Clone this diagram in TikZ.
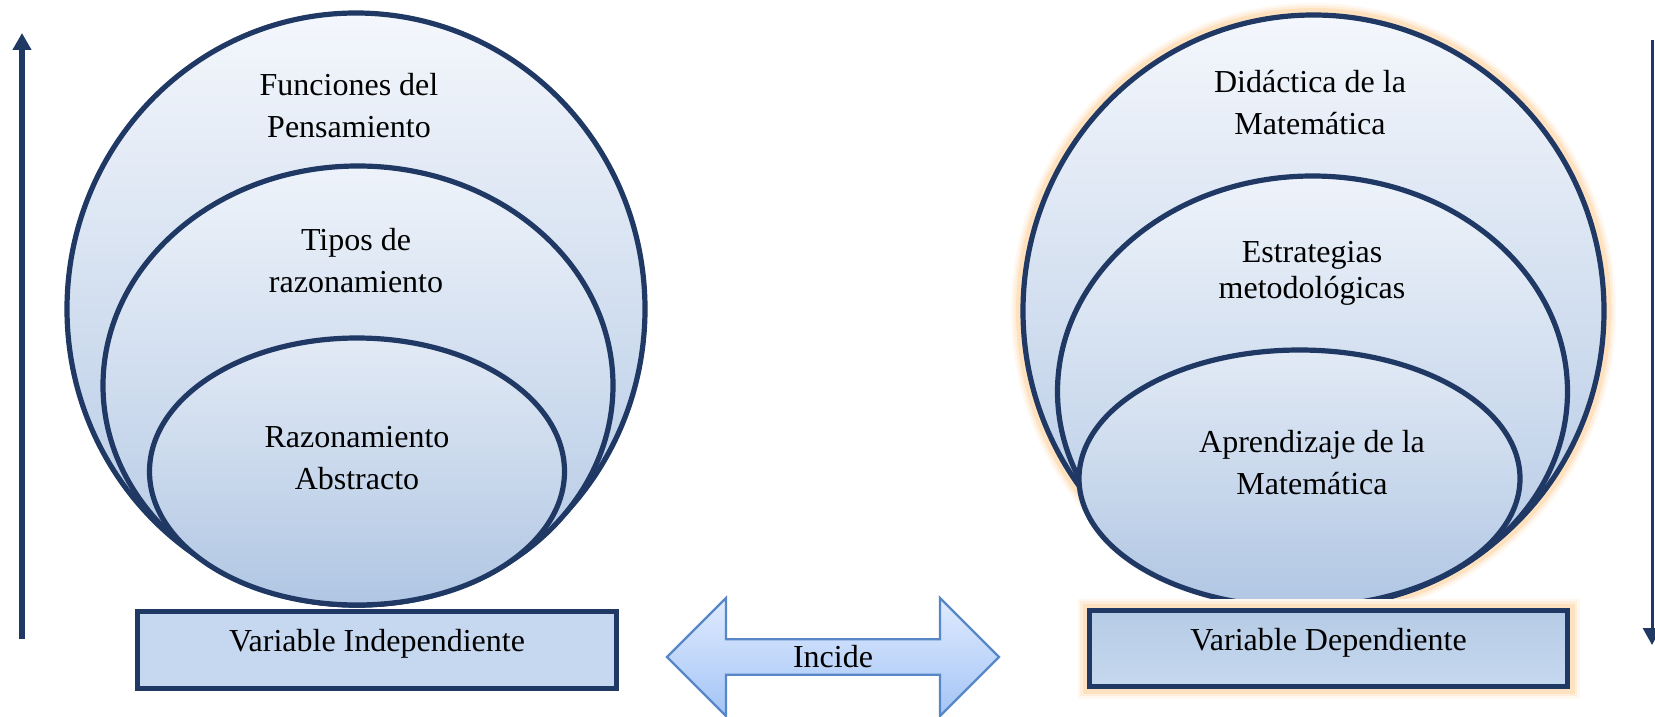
\documentclass[tikz,border=0pt]{standalone}
\usepackage{fontspec}
\setmainfont{Liberation Serif}
\usetikzlibrary{shapes,arrows.meta,positioning}
\definecolor{navy}{RGB}{31,56,100}
\definecolor{skytop}{RGB}{244,247,252}
\definecolor{skybot}{RGB}{176,198,227}
\definecolor{midtop}{RGB}{238,243,250}
\definecolor{intop}{RGB}{226,234,245}
\definecolor{boxfill}{RGB}{197,216,239}
\definecolor{boxtop}{RGB}{182,203,229}
\definecolor{glowc}{RGB}{252,196,128}
\definecolor{arrtop}{RGB}{224,235,254}
\definecolor{arrbot}{RGB}{163,196,246}
\definecolor{arredge}{RGB}{88,135,200}
\tikzset{every node/.style={font=\fontsize{16}{21}\selectfont, align=center},
         glow/.style={preaction={draw=glowc!12, line width=12pt},
                      preaction={draw=glowc!28, line width=9.5pt},
                      preaction={draw=glowc!50, line width=7pt}}
}
\tikzstyle{ring} = [ellipse, draw=navy, line width=2.6pt, inner sep=0pt,
    top color=skytop, bottom color=skybot]
\tikzstyle{varbox} = [rectangle, draw=navy, line width=2.8pt, minimum width=239.5pt,
    minimum height=38.5pt, text height=11pt, text depth=9.5pt]
\tikzstyle{line} = [draw=navy, -{Triangle[length=8.5pt,width=9pt]}]

\begin{document}
\begin{tikzpicture}[x=0.5pt, y=-0.5pt]
    \useasboundingbox (0,0) rectangle (1655,717);
    % left: independent variable
    \node [ring, minimum width=289pt, minimum height=296pt] (outerL) at (356,309) {};
    \node [ring, top color=midtop, minimum width=255pt, minimum height=219.5pt,
        anchor=south, xshift=1pt] (midL) at (outerL.south) {};
    \node [ring, top color=intop, minimum width=207.5pt, minimum height=133.5pt,
        anchor=south, xshift=0.5pt] (innerL) at (outerL.south) {};
    \node (funcL) at (349,106) {Funciones del\\Pensamiento};
    \node (tipoL) at (356,261) {Tipos de\\razonamiento};
    \node (razL) at (357,458) {Razonamiento\\Abstracto};
    \node [varbox, fill=boxfill] (vind) at (377,650) {Variable Independiente};
    % right: dependent variable
    \node [ring, glow, minimum width=290.5pt, minimum height=296pt] (outerR) at (1313.5,311) {};
    \node [ring, top color=midtop, minimum width=255pt, minimum height=215.5pt,
        anchor=south, xshift=-0.5pt] (midR) at (outerR.south) {};
    \node [ring, top color=intop, minimum width=220.5pt, minimum height=128.5pt,
        anchor=south, xshift=-7pt] (innerR) at (outerR.south) {};
    \node (didR) at (1310,103) {Didáctica de la\\Matemática};
    \node [font=\fontsize{16}{18}\selectfont] (estR) at (1312,273) {Estrategias\\metodológicas};
    \node (aprR) at (1312,463) {Aprendizaje de la\\Matemática};
    \node [varbox, glow, top color=boxtop, bottom color=boxfill,
        minimum width=239pt, minimum height=38pt] (vdep) at (1328.5,648.5) {Variable Dependiente};
    % link between both
    \node [double arrow, draw=arredge, line width=1.2pt, top color=arrtop, bottom color=arrbot,
        minimum height=166pt, minimum width=59pt, double arrow head extend=14.5pt,
        inner sep=0pt] (incide) at (833,657) {Incide};
    % side arrows
    \coordinate (baseL) at (22,639);
    \coordinate (tipL) at (22,33);
    \coordinate (baseR) at (1652,40);
    \coordinate (tipR) at (1652,645);
    \path [line, line width=3pt] (baseL) -- (tipL);
    \path [line, line width=1.5pt] (baseR) -- (tipR);
\end{tikzpicture}
\end{document}
